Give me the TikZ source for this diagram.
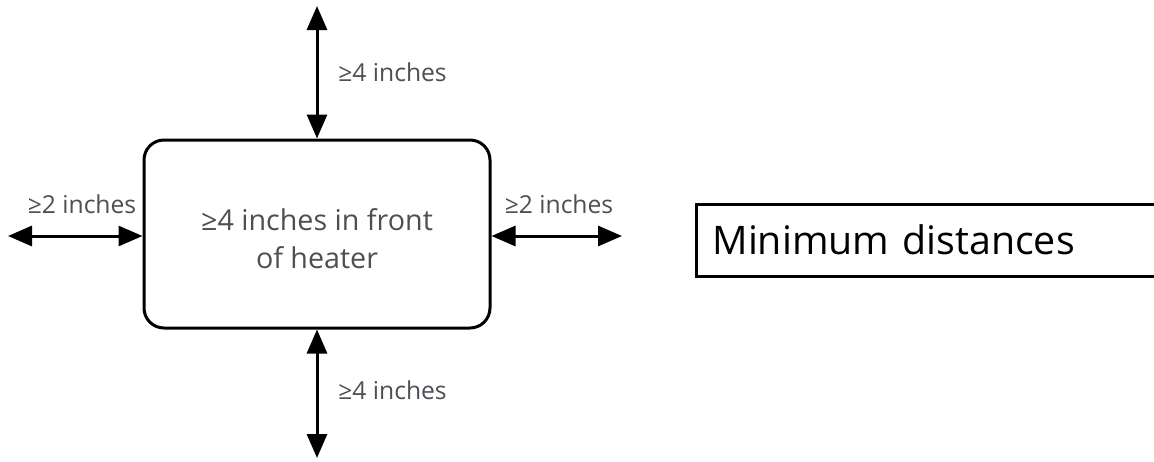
\documentclass[tikz,border=0pt]{standalone}
\usepackage{fontspec}
\setmainfont{Open Sans}
\usepackage{tikz}
\usetikzlibrary{positioning,arrows.meta}
\definecolor{labelgray}{HTML}{4E4E54}

\tikzset{
    gap/.style={line width=2.25pt, {Triangle[length=18pt,width=15pt]}-{Triangle[length=18pt,width=15pt]}},
    gaplabel/.style={text=labelgray, font=\fontsize{18.5}{20}\selectfont, inner sep=0pt},
}

\begin{document}
\begin{tikzpicture}[x=0.75pt, y=-0.75pt]
    \useasboundingbox (0,0) rectangle (1154,461);

    % heater and the free ends of the distance arrows
    \node[draw, line width=2.25pt, rounded corners=15pt, minimum width=259.5pt, minimum height=141pt,
          align=center, text=labelgray, font=\fontsize{21.5}{28.5}\selectfont] (heater) at (317,234)
          {\rule{0pt}{23.3pt}≥4 inches in front\\of heater};
    \coordinate (topend) at (317,6);
    \coordinate (bottomend) at (317,458);
    \coordinate (leftend) at (8,236);
    \coordinate (rightend) at (622,236);

    \node[draw, line width=2.25pt, anchor=west, minimum height=54pt, text width=331.5pt,
          inner xsep=12pt, align=left, font=\fontsize{29.5}{34}\selectfont] (title) at (695,240)
          {Minimum distances};

    \draw[gap] (topend) -- (heater.north -| topend);
    \draw[gap] (heater.south -| bottomend) -- (bottomend);
    \draw[gap] (leftend) -- (heater.west |- leftend);
    \draw[gap] (heater.east |- rightend) -- (rightend);

    \node[gaplabel, anchor=west] (toplabel) at (338,72) {≥4 inches};
    \node[gaplabel, anchor=west] (bottomlabel) at (338,390) {≥4 inches};
    \node[gaplabel] (leftlabel) at (82,204) {≥2 inches};
    \node[gaplabel] (rightlabel) at (559,204) {≥2 inches};
\end{tikzpicture}
\end{document}
